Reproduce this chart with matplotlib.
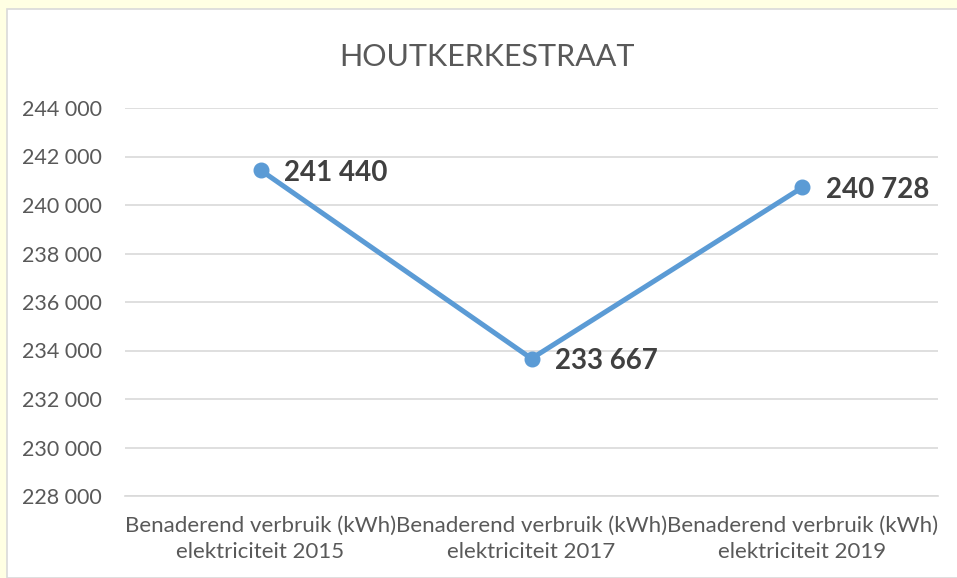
import matplotlib
matplotlib.use("Agg")
from matplotlib import pyplot as plt
from matplotlib.patches import Rectangle
from matplotlib.ticker import FuncFormatter

categories = [
    "Benaderend verbruik (kWh)\nelektriciteit 2015",
    "Benaderend verbruik (kWh)\nelektriciteit 2017",
    "Benaderend verbruik (kWh)\nelektriciteit 2019",
]
values = [241440, 233667, 240728]
y_ticks = list(range(228000, 244001, 2000))
title = "HOUTKERKESTRAAT"

plt.rcParams["font.family"] = ["Lato", "DejaVu Sans"]

fig = plt.figure(figsize=(9.57, 5.78), dpi=100)
fig.patch.set_facecolor("#FFFFE3")

# white chart area with grey border
fig.patches.append(Rectangle((7 / 957, 0), 1, 1 - 9 / 578, transform=fig.transFigure,
                             facecolor="white", edgecolor="#D9D9D9", linewidth=1.2,
                             zorder=-5))

ax = fig.add_axes([125 / 957, 82 / 578, 813 / 957, 388 / 578])
ax.set_facecolor("none")
ax.set_zorder(2)

x = list(range(len(categories)))
ax.plot(x, values, color="#5B9BD5", linewidth=3.6, marker="o", markersize=10.5,
        solid_capstyle="round", zorder=3)

for xi, v in zip(x, values):
    ax.annotate(f"{v:,}".replace(",", " "), (xi, v), xytext=(17, -2),
                textcoords="offset points", ha="left", va="center",
                fontsize=20, fontweight="bold", color="#404040")

ax.set_xlim(-0.5, len(categories) - 0.5)
ax.set_ylim(228000, 244000)
ax.set_yticks(y_ticks)
ax.yaxis.set_major_formatter(FuncFormatter(lambda v, p: f"{int(v):,}".replace(",", " ")))
ax.set_xticks(x)
ax.set_xticklabels(categories, linespacing=1.4)

ax.grid(axis="y", color="#D9D9D9", linewidth=1.2)
ax.set_axisbelow(True)
for s in ["top", "right", "left"]:
    ax.spines[s].set_visible(False)
ax.spines["bottom"].set_color("#D9D9D9")
ax.spines["bottom"].set_linewidth(1.2)
ax.tick_params(axis="both", length=0, colors="#595959", labelsize=16)
ax.tick_params(axis="y", labelsize=15.5, pad=16.5)
ax.tick_params(axis="x", pad=14)

fig.text(487 / 957, 1 - 57 / 578, title, ha="center", va="center",
         fontsize=22, color="#595959")

fig.savefig("out.png", dpi=100, facecolor=fig.get_facecolor())
